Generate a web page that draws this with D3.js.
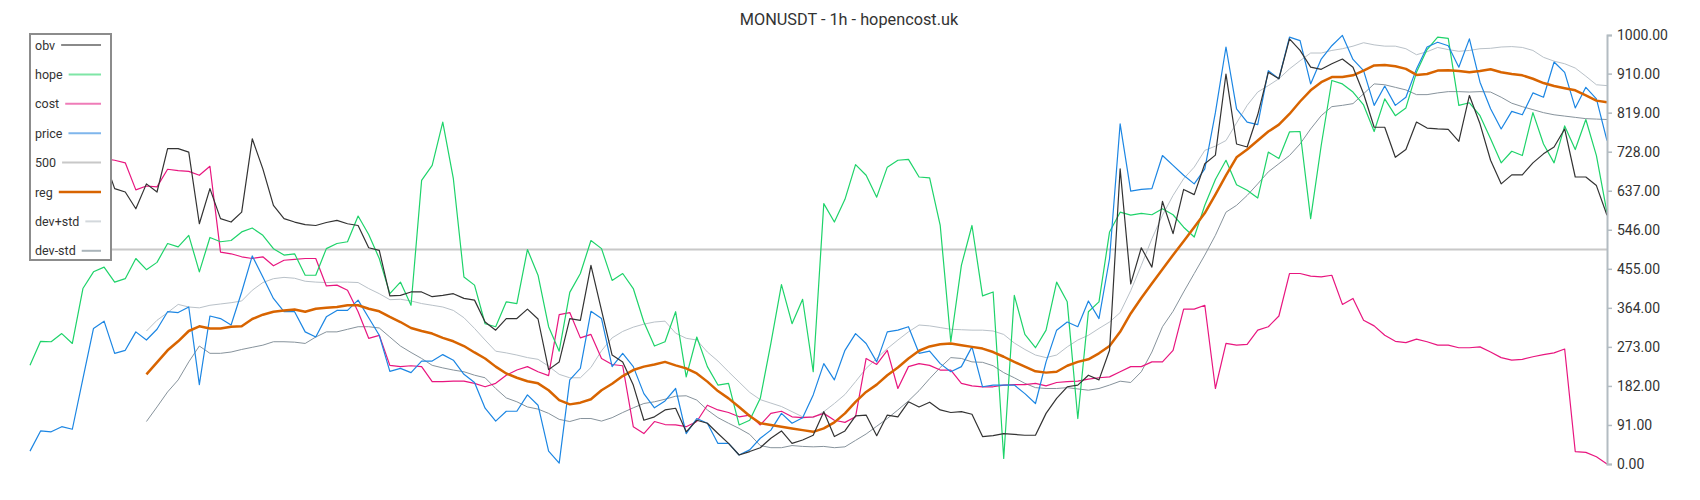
<!DOCTYPE html>
<html>
<head>
<meta charset="utf-8">
<script src="https://cdn.jsdelivr.net/npm/d3@7"></script>
<style>
  body { margin: 0; background: #fff; }
  svg { display: block; font-family: Roboto, "Noto Sans", sans-serif; }
</style>
</head>
<body>
<script>
const width = 1700
const height = 500

// series, 150 samples each
const obv = [null, null, null, null, null, null, null, 712, 642, 634, 595, 653, 634, 735, 735, 727, 560, 642, 572, 564, 587, 758, 688, 603, 572, 564,
  558, 556, 563, 568, 560, 556, 504, 498, 392, 393, 401, 401, 390, 393, 397, 386, 382, 331, 312, 339, 339, 361, 338, 220,
  238, 339, 335, 463, 358, 254, 238, 184, 102, 110, 126, 130, 75, 102, 95, 71, 48, 21, 29, 38, 60, 77, 48, 56, 67,
  122, 64, 77, 112, 114, 66, 114, 110, 145, 133, 144, 126, 120, 122, 116, 64, 66, 71, 69, 67, 67, 118, 153, 180,
  184, 207, 196, 265, 688, 420, 504, 459, 612, 537, 640, 628, 700, 720, 909, 746, 739, 814, 913, 898, 991, 964, 925, 920, 933,
  944, 925, 863, 785, 785, 715, 733, 797, 783, 781, 780, 752, 859, 793, 708, 653, 674, 674, 702, 723, 739, 781, 669, 669, 649, 580]

const hope = [230, 286, 285, 304, 281, 409, 448, 459, 424, 432, 479, 453, 470, 514, 506, 533, 448, 528, 518, 521, 541, 550, 533, 502, 487, 490,
  440, 440, 502, 514, 518, 578, 535, 479, 397, 424, 370, 661, 696, 797, 665, 436, 417, 327, 320, 378, 374, 500, 440, 320,
  263, 400, 444, 521, 502, 428, 444, 409, 331, 275, 285, 355, 203, 296, 227, 184, 188, 91, 102, 153, 281, 418, 327, 384, 215,
  607, 564, 617, 698, 673, 622, 692, 708, 710, 669, 667, 556, 285, 463, 556, 392, 401, 13, 393, 302, 271, 312, 424, 378,
  106, 355, 378, 541, 587, 580, 584, 581, 595, 581, 552, 529, 603, 663, 708, 651, 638, 620, 727, 712, 774, 775, 572, 743, 894,
  886, 867, 837, 775, 851, 812, 830, 913, 966, 995, 992, 836, 842, 812, 758, 702, 729, 719, 819, 746, 702, 788, 733, 803, 719, 586]

const cost = [null, null, null, null, null, null, null, 712, 708, 702, 639, 648, 646, 687, 684, 682, 673, 694, 494, 490, 483, 479, 483, 462, 475, 477,
  479, 479, 415, 417, 405, 355, 293, 300, 230, 227, 229, 227, 192, 192, 193, 193, 188, 180, 188, 207, 219, 227, 215, 206,
  348, 353, 294, 302, 246, 232, 229, 87, 71, 99, 92, 91, 87, 99, 137, 126, 120, 110, 114, 91, 118, 123, 110, 108, 110,
  118, 102, 97, 110, 246, 232, 265, 176, 227, 234, 230, 219, 219, 188, 182, 180, 180, 184, 185, 185, 188, 182, 190, 192,
  193, 198, 201, 203, 215, 227, 227, 238, 238, 265, 361, 361, 370, 176, 281, 277, 279, 312, 320, 345, 444, 444, 438, 436, 440,
  372, 386, 335, 322, 300, 286, 283, 291, 285, 277, 277, 271, 271, 273, 261, 248, 242, 244, 250, 255, 259, 268, 29, 27, 17, 0]

const price = [30, 77, 75, 87, 81, 199, 316, 333, 258, 265, 308, 289, 314, 355, 353, 366, 185, 345, 339, 324, 401, 485, 436, 386, 355, 355,
  308, 296, 343, 358, 358, 382, 341, 300, 216, 223, 213, 240, 240, 255, 242, 209, 190, 130, 100, 123, 123, 161, 137, 30,
  2, 196, 223, 356, 339, 227, 258, 227, 164, 131, 147, 176, 71, 106, 95, 48, 48, 21, 33, 60, 79, 118, 95, 108, 161,
  234, 196, 265, 304, 281, 238, 308, 312, 320, 258, 263, 234, 215, 227, 273, 180, 184, 184, 184, 164, 141, 238, 312, 331,
  320, 380, 339, 479, 793, 636, 640, 642, 719, 696, 673, 653, 688, 819, 972, 828, 797, 791, 917, 898, 995, 987, 886, 944, 975,
  999, 943, 917, 836, 881, 836, 855, 921, 972, 983, 975, 925, 991, 890, 828, 781, 822, 814, 865, 855, 937, 913, 830, 878, 851, 754]

const reg = [null, null, null, null, null, null, null, null, null, null, null, 209, 237, 265, 286, 310, 321, 316, 316, 320, 321, 338, 348, 355, 358, 360,
  355, 362, 364, 366, 370, 370, 362, 356, 343, 331, 317, 310, 304, 294, 286, 275, 260, 246, 227, 211, 201, 193, 188, 172,
  149, 139, 143, 151, 172, 187, 205, 219, 227, 232, 238, 230, 223, 211, 192, 170, 153, 133, 112, 95, 91, 87, 83, 79, 75,
  83, 97, 118, 145, 168, 185, 207, 225, 246, 264, 274, 279, 281, 277, 273, 269, 261, 250, 238, 227, 216, 213, 215, 229,
  238, 244, 258, 275, 308, 351, 387, 421, 454, 487, 519, 552, 585, 628, 673, 715, 733, 754, 775, 791, 816, 845, 871, 890, 902,
  902, 906, 917, 929, 930, 927, 921, 907, 909, 917, 918, 916, 913, 916, 920, 913, 909, 906, 898, 888, 881, 876, 871, 859, 847, 843]

const devPlus = [null, null, null, null, null, null, null, null, null, null, null, 310, 335, 353, 372, 366, 364, 370, 373, 376, 380, 405, 423, 432, 435, 433,
  426, 424, 423, 424, 424, 423, 409, 397, 383, 384, 380, 374, 370, 366, 358, 341, 316, 289, 263, 259, 254, 248, 244, 228,
  209, 201, 201, 225, 264, 294, 309, 319, 326, 331, 333, 305, 293, 289, 261, 240, 215, 191, 167, 150, 142, 134, 122, 110, 108,
  122, 141, 162, 192, 223, 246, 269, 289, 308, 324, 322, 318, 314, 313, 312, 312, 310, 302, 282, 267, 254, 248, 254, 273,
  289, 300, 316, 331, 353, 404, 463, 525, 580, 626, 665, 692, 731, 741, 754, 795, 836, 867, 882, 898, 921, 940, 958, 958, 964,
  968, 974, 982, 977, 974, 974, 968, 954, 961, 971, 966, 962, 964, 968, 969, 972, 973, 971, 964, 948, 939, 933, 923, 904, 884, 882]

const devMinus = [null, null, null, null, null, null, null, null, null, null, null, 99, 133, 168, 196, 238, 275, 258, 258, 261, 267, 272, 277, 285, 285, 284,
  281, 296, 308, 308, 314, 320, 320, 317, 296, 275, 260, 246, 230, 224, 219, 215, 207, 201, 176, 154, 145, 133, 128, 118,
  104, 99, 106, 106, 100, 108, 120, 131, 141, 145, 151, 158, 159, 149, 126, 108, 95, 83, 69, 43, 38, 38, 43, 41, 40,
  41, 38, 40, 55, 70, 88, 106, 126, 147, 171, 199, 225, 248, 246, 238, 237, 229, 213, 201, 188, 178, 176, 176, 178,
  175, 172, 176, 184, 193, 190, 215, 261, 320, 356, 401, 444, 487, 533, 587, 603, 626, 653, 681, 700, 719, 746, 781, 812, 833,
  836, 840, 863, 886, 884, 878, 872, 861, 861, 865, 868, 868, 867, 868, 867, 855, 841, 833, 826, 819, 814, 811, 808, 805, 804, 803]

const level = 500
const yTicks = [0, 91, 182, 273, 364, 455, 546, 637, 728, 819, 910, 1000]

const series = [
  {name: 'obv', values: obv, color: '#333333', legend: '#8a8a8a', width: 1.2},
  {name: 'hope', values: hope, color: '#1ed36a', legend: '#7fe6a6', width: 1.2},
  {name: 'cost', values: cost, color: '#e8167f', legend: '#ef7cb8', width: 1.2},
  {name: 'price', values: price, color: '#1c86e3', legend: '#7fb6ec', width: 1.2},
  {name: '500', values: obv.map(() => level), color: '#c8c8c8', legend: '#c8c8c8', width: 2},
  {name: 'reg', values: reg, color: '#d86400', legend: '#d86400', width: 2.5},
  {name: 'dev+std', values: devPlus, color: '#b9c1c8', legend: '#d3d8dc', width: 1},
  {name: 'dev-std', values: devMinus, color: '#87939c', legend: '#aab4ba', width: 1}
]

const x = d3.scaleLinear()
    .domain([0, obv.length - 1])
    .range([30, 1607])

const y = d3.scaleLinear()
    .domain([0, 1000])
    .range([464, 35])

const svg = d3.select('body')
    .append('svg')
    .attr('width', width)
    .attr('height', height)

svg.append('text')
    .attr('x', 849)
    .attr('y', 25)
    .attr('text-anchor', 'middle')
    .attr('font-size', 16.3)
    .attr('fill', '#333')
    .text('MONUSDT - 1h - hopencost.uk')

const line = d3.line()
    .defined(d => d != null)
    .x((d, i) => x(i))
    .y(d => y(d))

// draw back to front
const drawOrder = ['500', 'dev+std', 'dev-std', 'cost', 'hope', 'price', 'reg', 'obv']
drawOrder.forEach(name => {
    const s = series.find(d => d.name === name)
    svg.append('path')
        .datum(s.values)
        .attr('fill', 'none')
        .attr('stroke', s.color)
        .attr('stroke-width', s.width)
        .attr('stroke-linejoin', 'round')
        .attr('d', line)
})

const axis = svg.append('g')
    .attr('transform', `translate(${x.range()[1]},0)`)
    .call(d3.axisRight(y)
        .tickValues(yTicks)
        .tickFormat(d3.format('.2f'))
        .tickSize(5)
        .tickPadding(5))

axis.select('.domain').attr('stroke', '#b3bcc2').attr('stroke-width', 2)
axis.selectAll('.tick line').attr('stroke', '#b3bcc2').attr('stroke-width', 1.5)
axis.selectAll('.tick text')
    .attr('font-family', 'Roboto, sans-serif')
    .attr('font-size', 14)
    .attr('fill', '#333')

// legend box
const legend = svg.append('g')
legend.append('rect')
    .attr('x', 30)
    .attr('y', 34)
    .attr('width', 81)
    .attr('height', 226)
    .attr('fill', '#fff')
    .attr('stroke', '#8c8c8c')
    .attr('stroke-width', 2)

series.forEach((s, k) => {
    const cy = 45 + k * 29.4
    const t = legend.append('text')
        .attr('x', 35)
        .attr('y', cy + 4.5)
        .attr('font-size', 12.5)
        .attr('fill', '#333')
        .text(s.name)
    const tw = t.node().getComputedTextLength()
    legend.append('line')
        .attr('x1', 35 + tw + 6)
        .attr('x2', 101)
        .attr('y1', cy)
        .attr('y2', cy)
        .attr('stroke', s.legend)
        .attr('stroke-width', s.name === 'reg' ? 2.5 : 2)
})
</script>
</body>
</html>
